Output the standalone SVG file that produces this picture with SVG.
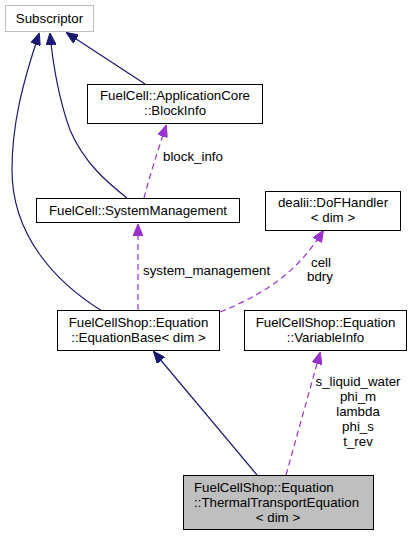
<svg xmlns="http://www.w3.org/2000/svg" width="412" height="536" viewBox="0 0 412 536">
<defs>
<style>
text{font-family:"Liberation Sans",Arial,sans-serif;font-size:13.3px;fill:#000}
.m{text-anchor:middle}
.box{fill:#fff;stroke:#000;stroke-width:1}
.inh{fill:none;stroke:#191970;stroke-width:1.2}
.use{fill:none;stroke:#9a32cd;stroke-width:1.2;stroke-dasharray:6,4}
</style>
<marker id="ah" viewBox="0 0 12 10" refX="11" refY="5" markerWidth="12" markerHeight="10" markerUnits="userSpaceOnUse" orient="auto">
<path d="M0,0 L12,5 L0,10 Z" fill="#191970" stroke="#191970"/>
</marker>
<marker id="ap" viewBox="0 0 12 10" refX="11" refY="5" markerWidth="12" markerHeight="10" markerUnits="userSpaceOnUse" orient="auto">
<path d="M0,0 L12,5 L0,10 Z" fill="#9a32cd" stroke="#9a32cd"/>
</marker>
</defs>
<rect width="412" height="536" fill="#fff"/>
<g id="edges">
<path class="inh" marker-end="url(#ah)" d="M102,311 C55,282 12,235 12,170 C12,125 22,85 39,34"/>
<path class="inh" marker-end="url(#ah)" d="M127,198 C108,183 84,163 70,130 C61,105 54,75 50,34"/>
<path class="inh" marker-end="url(#ah)" d="M145,84 L67,33"/>
<path class="use" marker-end="url(#ap)" d="M144,198 C150,175 158,150 166,126"/>
<path class="use" marker-end="url(#ap)" d="M138,310 L138,225"/>
<path class="use" marker-end="url(#ap)" d="M220,312 C270,292 300,268 323,231"/>
<path class="inh" marker-end="url(#ah)" d="M257,475 L154,352"/>
<path class="use" marker-end="url(#ap)" d="M286,475 L320,353"/>
<text x="163" y="161">block_info</text>
<text x="143" y="275">system_management</text>
<text class="m" x="321" y="267">cell</text>
<text class="m" x="320" y="281">bdry</text>
<text class="m" x="358" y="386">s_liquid_water</text>
<text class="m" x="358" y="401">phi_m</text>
<text class="m" x="358" y="416">lambda</text>
<text class="m" x="358" y="431">phi_s</text>
<text class="m" x="358" y="446">t_rev</text>
</g>
<g id="subscriptor">
<rect x="5.5" y="5.5" width="88" height="26" fill="#fff" stroke="#bfbfbf"/>
<text class="m" x="49.5" y="23">Subscriptor</text>
</g>
<g id="blockinfo">
<rect class="box" x="87.5" y="84.5" width="175" height="39"/>
<text class="m" x="175" y="100">FuelCell::ApplicationCore</text>
<text class="m" x="175" y="115">::BlockInfo</text>
</g>
<g id="systemmanagement">
<rect class="box" x="36.5" y="198.5" width="203" height="24"/>
<text class="m" x="138" y="215">FuelCell::SystemManagement</text>
</g>
<g id="dofhandler">
<rect class="box" x="265.5" y="191.5" width="135" height="39"/>
<text class="m" x="333" y="207">dealii::DoFHandler</text>
<text class="m" x="333" y="222">&lt; dim &gt;</text>
</g>
<g id="equationbase">
<rect class="box" x="57.5" y="310.5" width="162" height="40"/>
<text class="m" x="138.5" y="327">FuelCellShop::Equation</text>
<text class="m" x="138.5" y="342">::EquationBase&lt; dim &gt;</text>
</g>
<g id="variableinfo">
<rect class="box" x="244.5" y="310.5" width="162" height="40"/>
<text class="m" x="325.5" y="327">FuelCellShop::Equation</text>
<text class="m" x="325.5" y="342">::VariableInfo</text>
</g>
<g id="thermaltransport">
<rect x="183.5" y="475.5" width="190" height="54" fill="#bfbfbf" stroke="#000"/>
<text x="194" y="492">FuelCellShop::Equation</text>
<text x="194" y="507">::ThermalTransportEquation</text>
<text class="m" x="278" y="522">&lt; dim &gt;</text>
</g>
</svg>
